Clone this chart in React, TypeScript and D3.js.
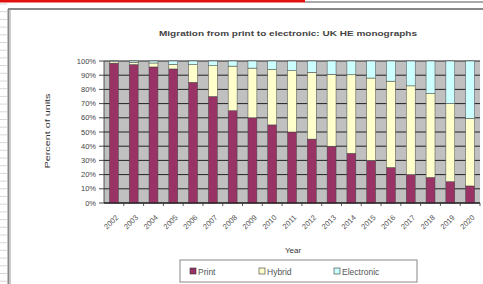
import React from "react";
import * as d3 from "d3";

const years = ["2002","2003","2004","2005","2006","2007","2008","2009","2010","2011","2012","2013","2014","2015","2016","2017","2018","2019","2020"];
const printVals = [98.5, 97.5, 95.8, 94.4, 85, 75, 65, 60, 55, 50, 45, 40, 35, 30, 25, 20, 18, 15, 12];
const hybridVals = [1, 1.5, 2.8, 3.2, 12.4, 21.7, 31.4, 35, 39.1, 43.2, 47, 50.6, 55.3, 58, 60.8, 62.5, 59.1, 55, 47.5];
const electronicVals = printVals.map((p, i) => +(100 - p - hybridVals[i]).toFixed(2));
const yTicks = [0, 10, 20, 30, 40, 50, 60, 70, 80, 90, 100];
const seriesNames = ["Print", "Hybrid", "Electronic"];
const colors = ["#993366", "#FFFFCC", "#CCFFFF"];

export default function App() {
  const W = 483, H = 284;
  const left = 104, right = 480, top = 61, bottom = 203;
  const x = d3.scaleBand<string>().domain(years).range([left, right]).paddingInner(0.55).paddingOuter(0.275);
  const y = d3.scaleLinear().domain([0, 100]).range([bottom, top]);
  const rows = years.map((yr, i) => ({ year: yr, Print: printVals[i], Hybrid: hybridVals[i], Electronic: electronicVals[i] }));
  const stacked = d3.stack<any>().keys(seriesNames)(rows);
  const rulerTicks = d3.range(4, H, 7.7);
  const font = "Arial, 'Liberation Sans', sans-serif";
  return (
    <svg width={W} height={H} style={{ position: "absolute", left: 0, top: 0, background: "#fff" }} fontFamily={font}>
      <rect x={0} y={0} width={W} height={H} fill="#fff" />
      {rulerTicks.map((t, i) => (
        <line key={i} x1={0} x2={7} y1={t} y2={t} stroke="#d8d8d8" strokeWidth={1} />
      ))}
      <rect x={0} y={0} width={305} height={2.5} fill="#e01010" />
      <line x1={305} x2={W} y1={2} y2={2} stroke="#555" strokeWidth={1} />
      <line x1={8.5} x2={8.5} y1={9} y2={H} stroke="#888" strokeWidth={2} />
      <line x1={8} x2={W} y1={9} y2={9} stroke="#888" strokeWidth={2} />
      <line x1={10.5} x2={10.5} y1={10} y2={H} stroke="#ccc" strokeWidth={1} />
      <text x={288} y={36} textAnchor="middle" fontSize={8} fontWeight="bold" fill="#444" textLength={258} lengthAdjust="spacingAndGlyphs">
        Migration from print to electronic: UK HE monographs
      </text>
      <text transform={`translate(50,131) rotate(-90)`} textAnchor="middle" fontSize={8} fill="#333" textLength={75} lengthAdjust="spacingAndGlyphs">Percent of units</text>
      <rect x={left} y={top} width={right - left} height={bottom - top} fill="#c0c0c0" />
      {yTicks.map((t) => (
        <g key={t}>
          <line x1={left} x2={right} y1={y(t)} y2={y(t)} stroke="#222" strokeWidth={1} />
          <line x1={left - 5} x2={left} y1={y(t)} y2={y(t)} stroke="#333" strokeWidth={0.9} />
          <text x={left - 8} y={y(t) + 2.6} textAnchor="end" fontSize={7.5} fill="#444">{t}%</text>
        </g>
      ))}
      {stacked.map((s, si) => (
        <g key={si}>
          {s.map((d, i) => (
            <rect key={i} x={x(years[i])} y={y(d[1])} width={x.bandwidth()} height={Math.max(0, y(d[0]) - y(d[1]))}
              fill={colors[si]} stroke="#444" strokeWidth={0.5} />
          ))}
        </g>
      ))}
      <line x1={left} x2={left} y1={top} y2={bottom} stroke="#333" strokeWidth={0.8} />
      <line x1={left} x2={right} y1={bottom} y2={bottom} stroke="#111" strokeWidth={1.2} />
      {years.map((yr) => {
        const cx = (x(yr) as number) + x.bandwidth() / 2;
        return (
          <g key={yr}>
            <line x1={cx + x.step() / 2} x2={cx + x.step() / 2} y1={bottom} y2={bottom + 3} stroke="#333" strokeWidth={0.8} />
            <text transform={`translate(${cx + 5},${218}) rotate(-45)`} textAnchor="end" fontSize={7.5} fill="#555">{yr}</text>
          </g>
        );
      })}
      <text x={293} y={253} textAnchor="middle" fontSize={8} fill="#333">Year</text>
      <rect x={180} y={260} width={237} height={22} fill="#fff" stroke="#888" strokeWidth={1} />
      {seriesNames.map((n, i) => {
        const sx = [190, 259, 334][i];
        return (
          <g key={n}>
            <rect x={sx} y={268} width={6} height={6} fill={colors[i]} stroke="#333" strokeWidth={0.6} />
            <text x={sx + 8} y={274.5} fontSize={8.5} fill="#555">{n}</text>
          </g>
        );
      })}
    </svg>
  );
}
